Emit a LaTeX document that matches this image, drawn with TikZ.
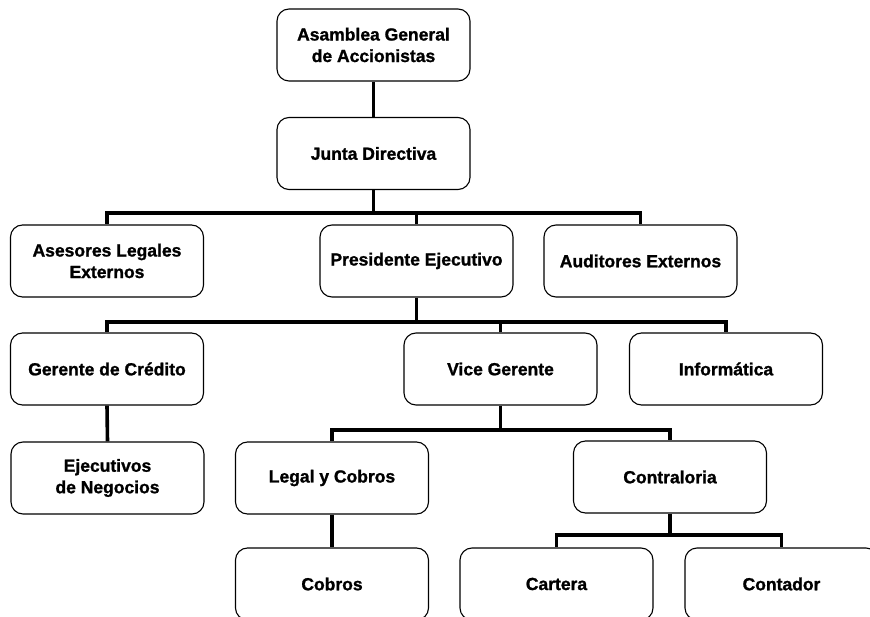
\documentclass[tikz,border=0pt]{standalone}
\usepackage{fontspec}
\setmainfont{Liberation Sans}[BoldFeatures={FakeBold=1.2}]
\begin{document}
\begin{tikzpicture}[x=1pt,y=-1pt,
  box/.style={draw=black, line width=1.1pt, rounded corners=12pt, minimum width=193pt, minimum height=72pt,
    inner sep=2pt, align=center, font=\fontsize{17.5}{21.5}\selectfont\bfseries},
  conn/.style={line width=3.6pt, black}]
\useasboundingbox (0,0) rectangle (870,617);
\clip (0,0) rectangle (870,617);
\fill[white] (0,0) rectangle (870,617);
% nodes
\node[box] (asm) at (373.5,45) {Asamblea General\\de Accionistas};
\node[box] (junta) at (373.5,153.5) {Junta Directiva};
\node[box] (ases) at (107,261) {Asesores Legales\\Externos};
\node[box] (pres) at (416.5,261) {Presidente Ejecutivo};
\node[box] (aud) at (640.5,261) {Auditores Externos};
\node[box] (ger) at (107,369) {Gerente de Crédito};
\node[box] (vice) at (500.5,369) {Vice Gerente};
\node[box] (info) at (726,369) {Informática};
\node[box] (ejec) at (107.5,478) {Ejecutivos\\de Negocios};
\node[box] (legal) at (332,478) {Legal y Cobros};
\node[box] (contra) at (670,477) {Contraloria};
\node[box] (cobros) at (332,584) {Cobros};
\node[box] (cartera) at (556.5,584) {Cartera};
\node[box] (contador) at (781.5,584) {Contador};
% bus levels
\coordinate (b1) at (0,213);
\coordinate (b2) at (0,322);
\coordinate (b3) at (0,430);
\coordinate (b4) at (0,535);
% connectors
\draw[conn] (asm.south) -- (junta.north);
\draw[conn] (junta.south) -- (junta.south |- b1) -| (ases.north);
\draw[conn] (junta.south |- b1) -| (aud.north);
\draw[conn] (pres.north) -- (pres.north |- b1);
\draw[conn] (pres.south) -- (pres.south |- b2) -| (ger.north);
\draw[conn] (pres.south |- b2) -| (info.north);
\draw[conn] (vice.north) -- (vice.north |- b2);
\draw[conn] (ger.south) -- (ejec.north);
\draw[conn] (vice.south) -- (vice.south |- b3) -| (legal.north);
\draw[conn] (vice.south |- b3) -| (contra.north);
\draw[conn] (legal.south) -- (cobros.north);
\draw[conn] (contra.south) -- (contra.south |- b4) -| (cartera.north);
\draw[conn] (contra.south |- b4) -| (contador.north);
\end{tikzpicture}
\end{document}
